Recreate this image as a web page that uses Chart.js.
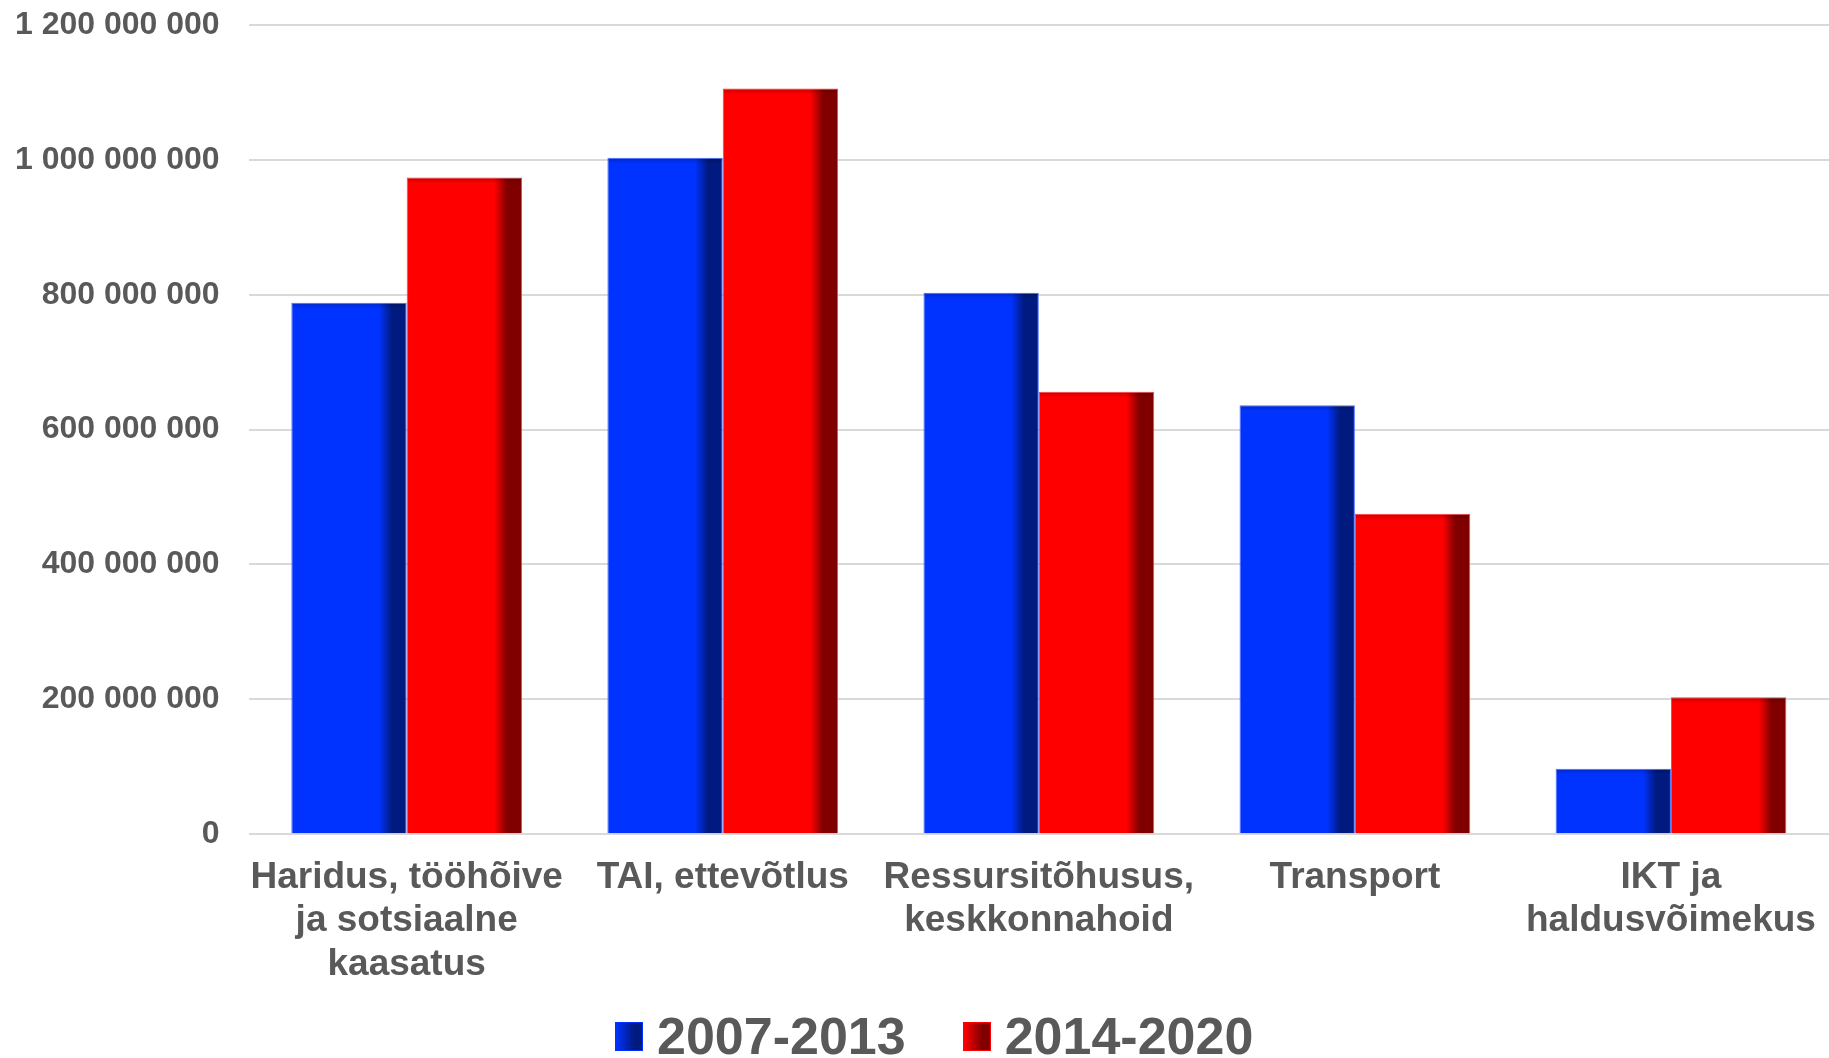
<!DOCTYPE html>
<html>
<head>
<meta charset="utf-8">
<script src="https://cdn.jsdelivr.net/npm/chart.js@4/dist/chart.umd.min.js"></script>
<style>
  body { margin: 0; background: #fff; font-family: 'Liberation Sans', Arial, sans-serif; }
  #wrap { position: absolute; left: 0; top: 0; width: 1829px; height: 1058px; }
  #legend { position: absolute; left: 615px; top: 1010px; height: 52px; display: flex; align-items: center; }
  .item { display: flex; align-items: center; margin-right: 57px; }
  .box { width: 26px; height: 27px; margin-right: 14px; }
  .label { font: bold 52px/52px 'Liberation Sans', Arial, sans-serif; color: #595959; }
</style>
</head>
<body>
<div id="wrap"><canvas id="chart"></canvas></div>
<div id="legend"></div>
<script>
const categories = [
  ['Haridus, tööhõive', 'ja sotsiaalne', 'kaasatus'],
  'TAI, ettevõtlus',
  ['Ressursitõhusus,', 'keskkonnahoid'],
  'Transport',
  ['IKT ja', 'haldusvõimekus']
];
const period1 = [788000000, 1003000000, 803000000, 636000000, 97000000];
const period2 = [974000000, 1106000000, 656000000, 475000000, 203000000];
const seriesNames = ['2007-2013', '2014-2020'];
const yMax = 1200000000;
const yStep = 200000000;

const textColor = '#595959';
const font = "'Liberation Sans', Arial, sans-serif";
const catPct = 0.73;
const yPad = 29;

const blue = { light: '#0033ff', dark: '#001a80', edge: '#4d70ff' };
const red = { light: '#ff0000', dark: '#800000', edge: '#ff4040' };

// horizontal shading on each bar, computed from the x scale
function barFill(col, side) {
  return (c) => {
    const chart = c.chart;
    const xs = chart.scales.x;
    if (!chart.chartArea || !xs) return col.light;
    const center = xs.getPixelForValue(c.dataIndex);
    const w = (xs.width / categories.length) * catPct / 2;
    const x0 = side < 0 ? center - w : center;
    const g = chart.ctx.createLinearGradient(x0, 0, x0 + w, 0);
    g.addColorStop(0, col.light);
    g.addColorStop(0.76, col.light);
    g.addColorStop(0.87, col.dark);
    g.addColorStop(1, col.dark);
    return g;
  };
}

// thin dark band along the top of each bar
const topShade = {
  id: 'topShade',
  afterDatasetsDraw(chart) {
    const ctx = chart.ctx;
    chart.data.datasets.forEach((ds, i) => {
      chart.getDatasetMeta(i).data.forEach((bar) => {
        const left = bar.x - bar.width / 2;
        const g = ctx.createLinearGradient(0, bar.y, 0, bar.y + 6);
        g.addColorStop(0, 'rgba(0,0,0,0.22)');
        g.addColorStop(1, 'rgba(0,0,0,0)');
        ctx.save();
        ctx.fillStyle = g;
        ctx.fillRect(left + 1, bar.y + 1, bar.width - 2, 6);
        ctx.restore();
      });
    });
  }
};

function spaced(v) {
  return String(v).replace(/\B(?=(\d{3})+(?!\d))/g, ' ');
}

new Chart(document.getElementById('chart'), {
  type: 'bar',
  data: {
    labels: categories,
    datasets: [
      {
        label: seriesNames[0],
        data: period1,
        backgroundColor: barFill(blue, -1),
        borderColor: blue.edge,
        borderWidth: 1,
        categoryPercentage: catPct,
        barPercentage: 1,
      },
      {
        label: seriesNames[1],
        data: period2,
        backgroundColor: barFill(red, 1),
        borderColor: red.edge,
        borderWidth: 1,
        categoryPercentage: catPct,
        barPercentage: 1,
      },
    ],
  },
  options: {
    responsive: true,
    maintainAspectRatio: false,
    animation: false,
    layout: { padding: { left: 15, right: 0, top: 25, bottom: 50 } },
    plugins: {
      legend: { display: false },
      tooltip: { enabled: false },
    },
    scales: {
      y: {
        min: 0,
        max: yMax,
        border: { display: false },
        grid: { color: '#d9d9d9', lineWidth: 2, drawTicks: false },
        ticks: {
          stepSize: yStep,
          padding: yPad,
          color: textColor,
          font: { family: font, size: 32, weight: 'bold' },
          callback: (v) => spaced(v),
        },
        // chart.js reserves the tick padding on both sides; keep only the inner gap
        afterFit: (s) => { s.paddingTop = 0; s.paddingBottom = 0; s.width -= yPad; },
      },
      x: {
        border: { display: false },
        grid: { display: false, drawTicks: false },
        ticks: {
          padding: 22,
          maxRotation: 0,
          autoSkip: false,
          color: textColor,
          font: { family: font, size: 37, weight: 'bold', lineHeight: 1.17 },
        },
        afterFit: (s) => { s.paddingLeft = 0; s.paddingRight = 0; },
      },
    },
  },
  plugins: [topShade],
});

// legend as html so the swatches can carry the same shading
const legend = document.getElementById('legend');
[blue, red].forEach((col, i) => {
  const item = document.createElement('div');
  item.className = 'item';
  const box = document.createElement('div');
  box.className = 'box';
  box.style.background = `linear-gradient(to right, ${col.light} 0%, ${col.dark} 70%, ${col.dark} 100%)`;
  box.style.border = `1px solid ${col.light}`;
  const txt = document.createElement('span');
  txt.className = 'label';
  txt.textContent = seriesNames[i];
  item.appendChild(box);
  item.appendChild(txt);
  legend.appendChild(item);
});
</script>
</body>
</html>
